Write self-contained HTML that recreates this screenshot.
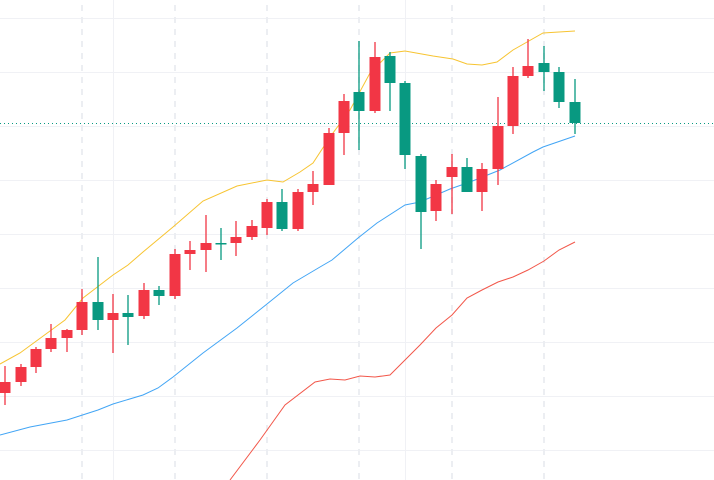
<!DOCTYPE html>
<html><head><meta charset="utf-8"><style>html,body{margin:0;padding:0;background:#fff;}svg{display:block}</style></head>
<body>
<svg width="714" height="480" viewBox="0 0 714 480" xmlns="http://www.w3.org/2000/svg">
<rect width="714" height="480" fill="#fff"/>
<g stroke="#f0f1f5" stroke-width="1">
<line x1="0" y1="18.5" x2="714" y2="18.5"/><line x1="0" y1="72.5" x2="714" y2="72.5"/><line x1="0" y1="126.5" x2="714" y2="126.5"/><line x1="0" y1="180.5" x2="714" y2="180.5"/><line x1="0" y1="234.5" x2="714" y2="234.5"/><line x1="0" y1="288.5" x2="714" y2="288.5"/><line x1="0" y1="342.5" x2="714" y2="342.5"/><line x1="0" y1="396.5" x2="714" y2="396.5"/><line x1="0" y1="450.5" x2="714" y2="450.5"/>
<line x1="113.5" y1="0" x2="113.5" y2="480"/><line x1="405.5" y1="0" x2="405.5" y2="480"/>
</g>
<g stroke="#eceef2" stroke-width="2" stroke-dasharray="6,6">
<line x1="82" y1="5" x2="82" y2="480"/><line x1="175" y1="5" x2="175" y2="480"/><line x1="267" y1="5" x2="267" y2="480"/><line x1="359" y1="5" x2="359" y2="480"/><line x1="452" y1="5" x2="452" y2="480"/><line x1="544" y1="5" x2="544" y2="480"/>
</g>
<line x1="0" y1="123.5" x2="714" y2="123.5" stroke="#089981" stroke-width="1" stroke-dasharray="1,3"/>
<polyline fill="none" stroke="#f7c431" stroke-width="1" points="0,364 20,353 65,320 83,298 113,275 128,265 143,252 173,227 203,201 237,186 267,180 283,182 300,172 313,163 330,137 350,110 370,73 390,53 405,51 433,56 453,59 467,64 482,65 497,62 513,50 543,33 575,31"/>
<polyline fill="none" stroke="#42a5f5" stroke-width="1" points="0,435 30,427 67,420 98,410 113,404 143,395 158,388 173,377 203,353 237,328 267,304 293,283 320,267 332,260 358,238 377,223 405,205 420,202 450,189 470,182 500,170 533,152 543,147 575,136"/>
<polyline fill="none" stroke="#f2574a" stroke-width="1" points="230,480 260,440 285,405 315,382 330,379 345,380 360,376 375,377 390,375 405,360 420,345 436,328 452,315 467,298 482,290 498,282 513,277 528,270 544,261 559,250 575,242"/>
<g stroke="#f23645" stroke-width="1.3">
<line x1="5" y1="366" x2="5" y2="405"/><line x1="21" y1="364" x2="21" y2="386"/><line x1="36" y1="347" x2="36" y2="373"/><line x1="51" y1="324" x2="51" y2="352"/><line x1="67" y1="329" x2="67" y2="352"/><line x1="82" y1="289" x2="82" y2="335"/><line x1="113" y1="294" x2="113" y2="353"/><line x1="144" y1="283" x2="144" y2="319"/><line x1="175" y1="249" x2="175" y2="299"/><line x1="190" y1="241" x2="190" y2="270"/><line x1="206" y1="215" x2="206" y2="272"/><line x1="236" y1="221" x2="236" y2="256"/><line x1="252" y1="220" x2="252" y2="240"/><line x1="267" y1="199" x2="267" y2="235"/><line x1="298" y1="189" x2="298" y2="231"/><line x1="313" y1="171" x2="313" y2="205"/><line x1="329" y1="128" x2="329" y2="185"/><line x1="344" y1="94" x2="344" y2="155"/><line x1="375" y1="42" x2="375" y2="113"/><line x1="436" y1="180" x2="436" y2="221"/><line x1="452" y1="154" x2="452" y2="214"/><line x1="482" y1="163" x2="482" y2="211"/><line x1="498" y1="97" x2="498" y2="185"/><line x1="513" y1="67" x2="513" y2="134"/><line x1="528" y1="39" x2="528" y2="78"/>
</g>
<g fill="#f23645">
<rect x="-0.5" y="382" width="11" height="11"/><rect x="15.5" y="367" width="11" height="15"/><rect x="30.5" y="349" width="11" height="18"/><rect x="45.5" y="338" width="11" height="11"/><rect x="61.5" y="330" width="11" height="8"/><rect x="76.5" y="302" width="11" height="28"/><rect x="107.5" y="313" width="11" height="7"/><rect x="138.5" y="290" width="11" height="26"/><rect x="169.5" y="254" width="11" height="42"/><rect x="184.5" y="250" width="11" height="4"/><rect x="200.5" y="243" width="11" height="7"/><rect x="230.5" y="237" width="11" height="6"/><rect x="246.5" y="226" width="11" height="11"/><rect x="261.5" y="202" width="11" height="26"/><rect x="292.5" y="192" width="11" height="37"/><rect x="307.5" y="184" width="11" height="8"/><rect x="323.5" y="133" width="11" height="52"/><rect x="338.5" y="101" width="11" height="32"/><rect x="369.5" y="57" width="11" height="54"/><rect x="430.5" y="184" width="11" height="27"/><rect x="446.5" y="167" width="11" height="10"/><rect x="476.5" y="169" width="11" height="23"/><rect x="492.5" y="126" width="11" height="43"/><rect x="507.5" y="76" width="11" height="50"/><rect x="522.5" y="66" width="11" height="10"/>
</g>
<g stroke="#089981" stroke-width="1.3">
<line x1="98" y1="257" x2="98" y2="330"/><line x1="128" y1="295" x2="128" y2="345"/><line x1="159" y1="286" x2="159" y2="305"/><line x1="221" y1="228" x2="221" y2="260"/><line x1="282" y1="189" x2="282" y2="231"/><line x1="359" y1="41" x2="359" y2="150"/><line x1="390" y1="52" x2="390" y2="111"/><line x1="405" y1="81" x2="405" y2="169"/><line x1="421" y1="154" x2="421" y2="249"/><line x1="467" y1="158" x2="467" y2="192"/><line x1="544" y1="46" x2="544" y2="91"/><line x1="559" y1="67" x2="559" y2="108"/><line x1="575" y1="79" x2="575" y2="134"/>
</g>
<g fill="#089981">
<rect x="92.5" y="302" width="11" height="18"/><rect x="122.5" y="313" width="11" height="4"/><rect x="153.5" y="290" width="11" height="6"/><rect x="215.5" y="243" width="11" height="1.5"/><rect x="276.5" y="202" width="11" height="27"/><rect x="353.5" y="92" width="11" height="19"/><rect x="384.5" y="56" width="11" height="27"/><rect x="399.5" y="83" width="11" height="72"/><rect x="415.5" y="156" width="11" height="56"/><rect x="461.5" y="167" width="11" height="25"/><rect x="538.5" y="63" width="11" height="9"/><rect x="553.5" y="72" width="11" height="30"/><rect x="569.5" y="102" width="11" height="21"/>
</g>
</svg>
</body></html>
